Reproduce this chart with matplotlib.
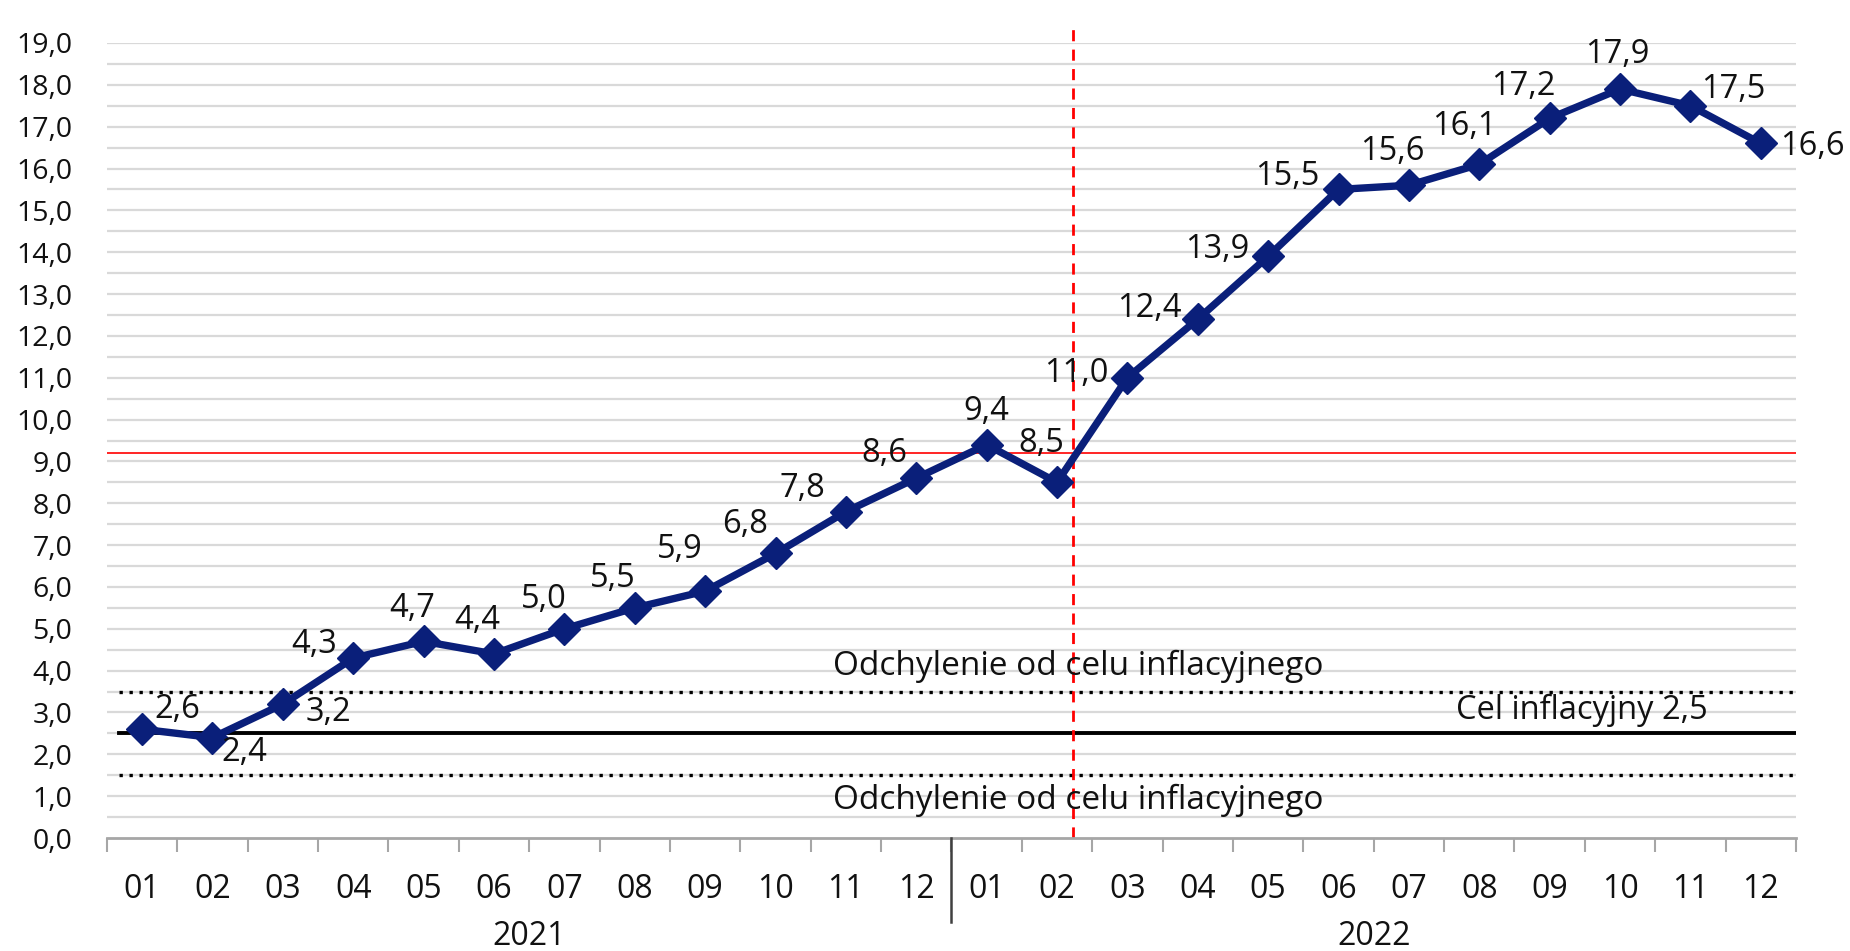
import numpy as np
import matplotlib
matplotlib.use('Agg')
import matplotlib.pyplot as plt

plt.rcParams['font.family'] = ['Open Sans', 'DejaVu Sans']

# CPI y/y, monthly 2021-2022
months = ['01', '02', '03', '04', '05', '06', '07', '08', '09', '10', '11', '12'] * 2
years = ['2021', '2022']
values = [2.6, 2.4, 3.2, 4.3, 4.7, 4.4, 5.0, 5.5, 5.9, 6.8, 7.8, 8.6,
          9.4, 8.5, 11.0, 12.4, 13.9, 15.5, 15.6, 16.1, 17.2, 17.9, 17.5, 16.6]
target = 2.5
band_upper = 3.5
band_lower = 1.5
red_level = 9.2
red_x = 13.23

# label offsets in points (dx, dy)
offsets = [(25, 14), (23, -11), (33, -6), (-28, 10), (-8, 24), (-12, 24),
           (-15, 21), (-16, 21), (-18, 30), (-22, 21), (-31, 17), (-23, 18),
           (0, 24), (-11, 28), (-37, 3), (-35, 8), (-37, 5), (-37, 9),
           (-12, 24), (-11, 27), (-19, 23), (-2, 25), (31, 12), (37, -2)]

fig = plt.figure(figsize=(18.5, 9.51), dpi=100)
ax = fig.add_axes([0.0578, 0.1188, 0.9130, 0.8360])

x = np.arange(len(values))
ax.set_xlim(-0.5, len(values) - 0.5)
ax.set_ylim(0, 19)

# gridlines every 0.5
for g in np.arange(0.5, 19.01, 0.5):
    ax.axhline(g, color='#d9d9d9', lw=1.6, zorder=0)

ax.axhline(band_upper, color='black', lw=2.4, ls=(0, (1, 2)), zorder=1, xmin=0.007)
ax.axhline(band_lower, color='black', lw=2.4, ls=(0, (1, 2)), zorder=1, xmin=0.007)
ax.axhline(target, color='black', lw=2.8, zorder=1, xmin=0.007)
ax.axhline(red_level, color='#ff0000', lw=1.2, zorder=2)
ax.axvline(red_x, color='#ff0000', lw=2.0, ls=(0, (4, 3)), zorder=2, ymin=0, ymax=1.02, clip_on=False)

ax.plot(x, values, color='#0a1f7a', lw=5.3, marker='D', ms=16, zorder=3)

for xi, v, (dx, dy) in zip(x, values, offsets):
    ax.annotate(f'{v:.1f}'.replace('.', ','), (xi, v), xytext=(dx, dy),
                textcoords='offset points', ha='center', va='center',
                fontsize=23.5, color='#111111', zorder=4)

ax.text(13.3, 4.1, 'Odchylenie od celu inflacyjnego', ha='center', va='center', fontsize=24, color='#111111')
ax.text(13.3, 0.9, 'Odchylenie od celu inflacyjnego', ha='center', va='center', fontsize=24, color='#111111')
ax.text(22.25, 3.05, 'Cel inflacyjny 2,5', ha='right', va='center', fontsize=23.5, color='#111111')

for s in ['left', 'right', 'top']:
    ax.spines[s].set_visible(False)
ax.spines['bottom'].set_color('#a6a6a6')
ax.spines['bottom'].set_linewidth(2)

ax.set_yticks(np.arange(0, 19.01, 1.0))
ax.set_yticklabels([f'{t:.1f}'.replace('.', ',') for t in np.arange(0, 19.01, 1.0)])
ax.tick_params(axis='y', length=0, pad=25, labelsize=20.5, labelcolor='#111111')

ax.set_xticks(np.arange(-0.5, len(values), 1.0))
ax.set_xticklabels([])
ax.tick_params(axis='x', which='major', length=10, width=1.5, color='#a6a6a6')
ax.set_xticks(x, minor=True)
ax.set_xticklabels(months, minor=True)
ax.tick_params(axis='x', which='minor', length=0, pad=25, labelsize=23, labelcolor='#111111')

# year separator and year labels
ax.plot([11.5, 11.5], [0, -2.0], color='#404040', lw=1.8, clip_on=False, zorder=5)
ax.text(5.5, -2.35, years[0], ha='center', va='center', fontsize=23, color='#111111')
ax.text(17.5, -2.35, years[1], ha='center', va='center', fontsize=23, color='#111111')

fig.savefig('out.png', dpi=100)
